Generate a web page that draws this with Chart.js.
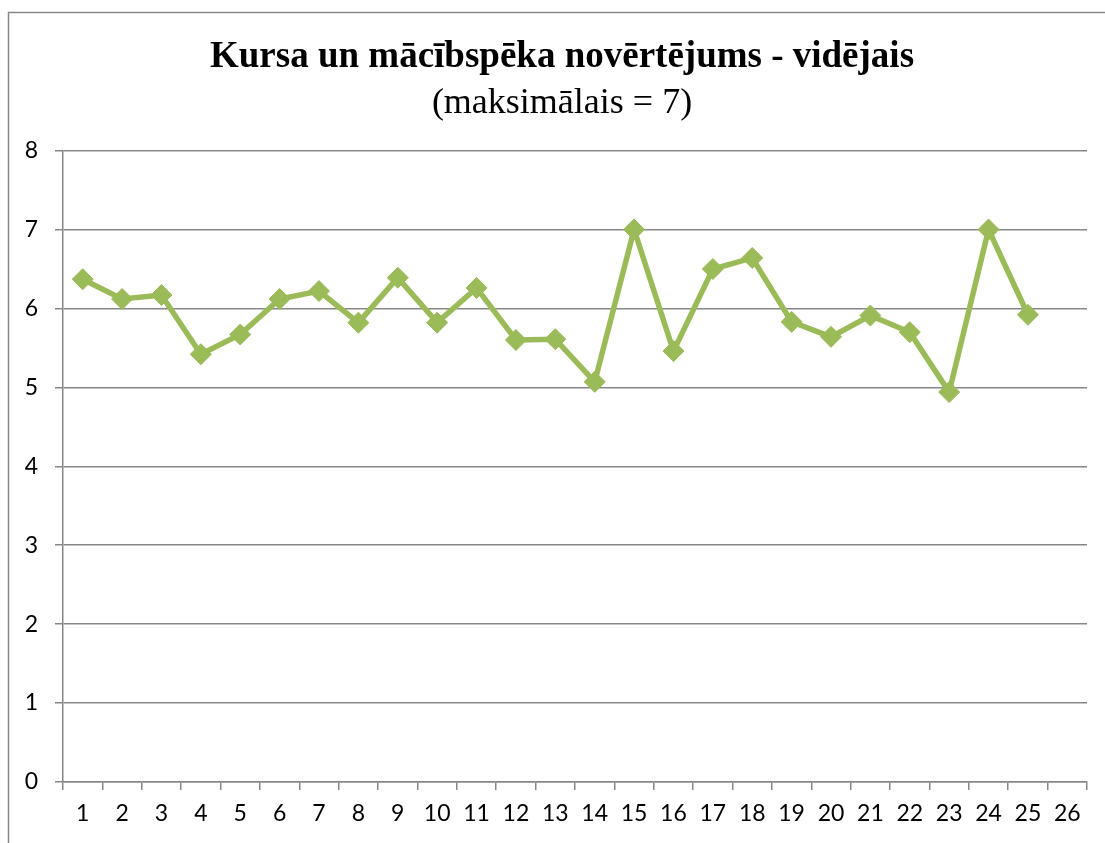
<!DOCTYPE html>
<html>
<head>
<meta charset="utf-8">
<script src="https://cdn.jsdelivr.net/npm/chart.js@4/dist/chart.umd.min.js"></script>
<style>
  body { margin: 0; background: #fff; }
</style>
</head>
<body>
<canvas id="ratingChart" width="1105" height="843"></canvas>
<script>
// category labels on the x axis (26 slots, last one empty)
const courseNumbers = ['1','2','3','4','5','6','7','8','9','10','11','12','13',
    '14','15','16','17','18','19','20','21','22','23','24','25','26'];

// average ratings
const averageRating = [6.37, 6.12, 6.17, 5.42, 5.67, 6.12, 6.22, 5.82, 6.39, 5.82,
    6.26, 5.60, 5.61, 5.07, 7.00, 5.46, 6.50, 6.64, 5.83, 5.64,
    5.91, 5.70, 4.94, 7.00, 5.92, null];

const titleText = 'Kursa un mācībspēka novērtējums - vidējais';
const subtitleText = '(maksimālais = 7)';

const axisGray = '#878787';
const lineGreen = '#9bbb59';

// white page + the thin frame around the chart object
const framePlugin = {
    id: 'frame',
    afterLayout(chart) {
        // the titles in the original are centred a bit more to the right
        chart.boxes.forEach(box => {
            if (box.options && box.options.text !== undefined) {
                box.left += 37;
            }
        });
    },
    beforeDraw(chart) {
        const ctx = chart.ctx;
        ctx.save();
        ctx.fillStyle = '#fff';
        ctx.fillRect(0, 0, chart.width, chart.height);
        ctx.strokeStyle = axisGray;
        ctx.lineWidth = 1.5;
        ctx.beginPath();
        ctx.moveTo(8.5, chart.height);
        ctx.lineTo(8.5, 12.5);
        ctx.lineTo(chart.width, 12.5);
        ctx.stroke();
        ctx.restore();
    }
};

const tickFont = { family: 'Lato, "Open Sans", sans-serif', size: 23 };

const ctx = document.getElementById('ratingChart').getContext('2d');
new Chart(ctx, {
    type: 'line',
    data: {
        labels: courseNumbers,
        datasets: [{
            data: averageRating,
            borderColor: lineGreen,
            backgroundColor: lineGreen,
            borderWidth: 5.5,
            pointStyle: 'rectRot',
            pointRadius: 10.5,
            pointBorderWidth: 1,
            pointBackgroundColor: lineGreen,
            pointBorderColor: lineGreen,
            tension: 0,
            spanGaps: false
        }]
    },
    options: {
        responsive: false,
        animation: false,
        layout: {
            padding: { top: 0, right: 18, bottom: 0, left: 0 }
        },
        plugins: {
            legend: { display: false },
            tooltip: { enabled: false },
            title: {
                display: true,
                text: titleText,
                color: '#000',
                font: { family: '"Liberation Serif", "Times New Roman", serif', size: 37, weight: 'bold' },
                padding: { top: 35, bottom: 0 }
            },
            subtitle: {
                display: true,
                text: subtitleText,
                color: '#000',
                font: { family: '"Liberation Serif", "Times New Roman", serif', size: 36, weight: 'normal' },
                padding: { top: 3, bottom: 25 }
            }
        },
        scales: {
            x: {
                offset: true,
                afterFit(axis) { axis.height = 61; },
                grid: {
                    offset: true,
                    drawOnChartArea: false,
                    drawTicks: true,
                    tickLength: 8,
                    color: axisGray,
                    lineWidth: 1.5
                },
                border: { color: axisGray, width: 1.5 },
                ticks: {
                    color: '#000',
                    padding: 10,
                    maxRotation: 0,
                    autoSkip: false,
                    font: tickFont
                }
            },
            y: {
                min: 0,
                max: 8,
                afterFit(axis) { axis.width = 63; },
                grid: {
                    color: axisGray,
                    lineWidth: 1.5,
                    tickLength: 8
                },
                border: { color: axisGray, width: 1.5 },
                ticks: {
                    stepSize: 1,
                    color: '#000',
                    padding: 17,
                    font: tickFont
                }
            }
        }
    },
    plugins: [framePlugin]
});
</script>
</body>
</html>
